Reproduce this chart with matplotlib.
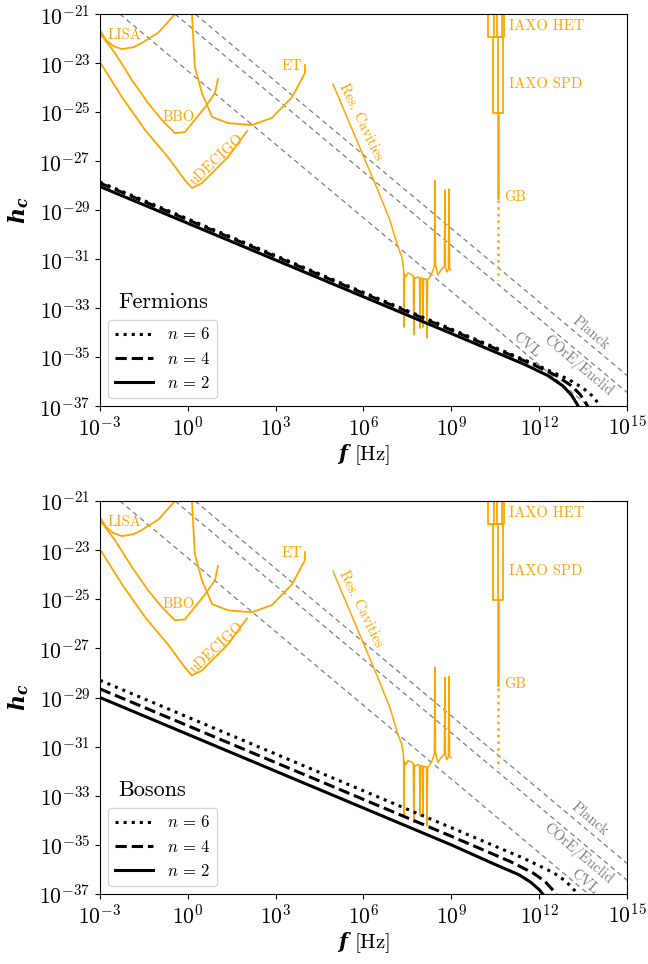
"""Fermion / boson GW strain spectra against detector sensitivities."""
import matplotlib
matplotlib.use("Agg")
import matplotlib.pyplot as plt
import numpy as np

plt.rcParams["font.family"] = "serif"
plt.rcParams["font.serif"] = ["cmr10"]
plt.rcParams["mathtext.fontset"] = "cm"
plt.rcParams["axes.formatter.use_mathtext"] = True
plt.rcParams["axes.unicode_minus"] = False

ORANGE = "#FFA500"
GREY = "grey"

# ---- signal curves, log10 f [Hz] vs log10 h_c ----
FERM = {
    6: ([-3, 9, 12, 13, 13.5, 13.8, 14.0, 14.15],
        [-27.86, -33.86, -35.37, -35.91, -36.27, -36.57, -36.86, -37.13]),
    4: ([-3, 9, 11.8, 12.6, 13.1, 13.4, 13.6, 13.7],
        [-27.9, -33.9, -35.31, -35.77, -36.17, -36.53, -36.89, -37.12]),
    2: ([-3, 9, 11.5, 12.3, 12.8, 13.1, 13.3, 13.4],
        [-28.04, -34.04, -35.30, -35.76, -36.17, -36.55, -36.93, -37.17]),
}
BOS = {
    6: ([-3, 9, 11.5, 12.5, 12.9, 13.2, 13.4],
        [-28.3, -34.3, -35.56, -36.14, -36.47, -36.84, -37.2]),
    4: ([-3, 9, 11, 11.8, 12.2, 12.5, 12.65],
        [-28.65, -34.65, -35.67, -36.15, -36.49, -36.88, -37.15]),
    2: ([-3, 9, 10.5, 11.3, 11.7, 12.0, 12.2],
        [-29.0, -35.0, -35.8, -36.21, -36.51, -36.82, -37.11]),
}
N_STYLES = {6: ":", 4: "--", 2: "-"}

# ---- detector sensitivity curves ----
LISA_F = [-3, -2.8, -2.55, -2.25, -1.85, -1.6, -1.0, -0.44]
LISA_H = [-21.65, -22.05, -22.3, -22.43, -22.35, -22.2, -21.75, -21.0]
BBO_F = [-3, -2.49, -1.91, -1.36, -0.88, -0.44, -0.10, 0.59, 0.93, 1.03]
BBO_H = [-21.78, -22.59, -23.69, -24.63, -25.33, -25.86, -25.82, -24.80, -24.22, -23.65]
DECIGO_F = [-3, -2.25, -1.46, -0.68, -0.10, 0.14, 0.48, 1.37, 2.02]
DECIGO_H = [-22.96, -24.39, -25.73, -26.84, -27.78, -28.10, -27.9, -26.84, -25.78]
ET_F = [0.14, 0.24, 0.48, 0.83, 1.37, 2.19, 2.87, 3.56, 4.0, 4.0]
ET_H = [-21.0, -23.16, -24.22, -25.2, -25.45, -25.53, -25.24, -24.39, -23.41, -23.08]
RC_F = [4.96, 6.56, 6.90, 7.18, 7.31, 7.37, 7.38, 7.40, 7.45, 7.52, 7.62, 7.70,
        7.72, 7.74, 7.79, 7.86, 7.91, 7.93, 7.95, 8.01, 8.03, 8.05, 8.10, 8.15,
        8.17, 8.19, 8.24, 8.34, 8.42, 8.44, 8.46, 8.54, 8.62, 8.68, 8.76, 8.78,
        8.80, 8.85, 8.90, 8.92, 8.94, 8.99]
RC_H = [-23.86, -28.39, -29.41, -30.51, -30.92, -31.40, -33.78, -31.60, -31.73,
        -31.57, -31.61, -31.69, -34.10, -31.75, -31.78, -31.73, -31.76, -33.82,
        -31.78, -31.78, -33.78, -31.80, -31.82, -31.82, -34.22, -31.86, -31.78,
        -31.57, -31.30, -27.78, -31.24, -31.65, -31.50, -31.40, -31.30, -28.18,
        -31.37, -31.53, -31.40, -28.14, -31.40, -31.45]
HET_F = [10.26, 10.80]
HET_LINES_F = [10.46, 10.56, 10.73]
HET_H = [-21.0, -21.95]
SPD_F = [10.43, 10.75]
SPD_H = [-21.95, -25.05]
GB_F = 10.59
GB_SOLID_H = [-25.05, -28.5]
GB_DOT_H = [-28.6, -31.86]

# ---- CMB-bound lines (endpoints) ----
BOUNDS = {
    "Planck": ([0.25, 15.0], [-21.0, -35.75]),
    "COrE/Euclid": ([-0.44, 15.0], [-21.0, -36.44]),
    "CVL": ([-2.32, 13.68], [-21.0, -37.0]),
}
BOUND_LABELS_TOP = {"Planck": (13.77, -34.02), "COrE/Euclid": (13.33, -35.37),
                    "CVL": (11.55, -34.51)}
BOUND_LABELS_BOT = {"Planck": (13.73, -33.94), "COrE/Euclid": (13.33, -35.37),
                    "CVL": (13.53, -36.51)}

DET_LABELS = [
    ("LISA", -2.15, -21.86, 0),
    ("BBO", -0.30, -25.20, 0),
    ("uDECIGO", 1.0, -26.96, 43),
    ("ET", 3.56, -23.12, 0),
    ("Res. Cavities", 5.91, -25.41, -64),
]

XTICKS = [-3, 0, 3, 6, 9, 12, 15]
YTICKS = [-37, -35, -33, -31, -29, -27, -25, -23, -21]


def p(v):
    return 10.0 ** np.asarray(v, dtype=float)


def draw_panel(ax, curves, title, bound_labels):
    for name, (lf, lh) in BOUNDS.items():
        ax.plot(p(lf), p(lh), color=GREY, lw=0.9, ls=(0, (4, 3)))
        tx, ty = bound_labels[name]
        ax.text(p(tx), p(ty), name, color=GREY, fontsize=10.5, rotation=-40,
                ha="center", va="center", rotation_mode="anchor")

    kw = dict(color=ORANGE, lw=1.3)
    ax.plot(p(LISA_F), p(LISA_H), **kw)
    ax.plot(p(BBO_F), p(BBO_H), **kw)
    ax.plot(p(DECIGO_F), p(DECIGO_H), **kw)
    ax.plot(p(ET_F), p(ET_H), **kw)
    ax.plot(p(RC_F), p(RC_H), color=ORANGE, lw=1.1)
    # IAXO HET box + inner lines
    x0, x1 = HET_F
    y0, y1 = HET_H
    ax.plot(p([x0, x0, x1, x1]), p([y0, y1, y1, y0]), **kw)
    for xf in HET_LINES_F:
        ax.plot(p([xf, xf]), p(HET_H), **kw)
    # IAXO SPD box
    x0, x1 = SPD_F
    y0, y1 = SPD_H
    ax.plot(p([x0, x0, x1, x1, x0]), p([y0, y1, y1, y0, y0]), **kw)
    ax.plot(p([GB_F, GB_F]), p(SPD_H), **kw)
    ax.plot(p([GB_F, GB_F]), p(GB_SOLID_H), color=ORANGE, lw=1.8)
    ax.plot(p([GB_F, GB_F]), p(GB_DOT_H), color=ORANGE, lw=1.8, ls=":")

    for txt, lf, lh, rot in DET_LABELS:
        ax.text(p(lf), p(lh), txt, color=ORANGE, fontsize=10.5, rotation=rot,
                ha="center", va="center", rotation_mode="anchor")
    ax.text(p(10.97), p(-21.49), "IAXO HET", color=ORANGE, fontsize=10.5,
            ha="left", va="center")
    ax.text(p(10.97), p(-23.86), "IAXO SPD", color=ORANGE, fontsize=10.5,
            ha="left", va="center")
    ax.text(p(10.80), p(-28.47), "GB", color=ORANGE, fontsize=10.5,
            ha="left", va="center")

    for n, (lf, lh) in curves.items():
        ax.plot(p(lf), p(lh), color="black", lw=2.2, ls=N_STYLES[n],
                label=rf"$n\,=\,{n}$")

    ax.set_xscale("log")
    ax.set_yscale("log")
    ax.set_xlim(1e-3, 1e15)
    ax.set_ylim(1e-37, 1e-21)
    ax.set_xticks(p(XTICKS))
    ax.set_yticks(p(YTICKS))
    ax.xaxis.set_minor_locator(matplotlib.ticker.NullLocator())
    ax.yaxis.set_minor_locator(matplotlib.ticker.NullLocator())
    ax.tick_params(labelsize=15.5)
    ax.set_xlabel(r"$\mathbfit{f}$ [Hz]", fontsize=15,
                  math_fontfamily="dejavuserif", labelpad=2)
    ax.set_ylabel(r"$\mathbfit{h_c}$", fontsize=16,
                  math_fontfamily="dejavuserif", labelpad=6)
    ax.legend(loc="lower left", fontsize=12, handlelength=2.3,
              borderaxespad=0.5)
    ax.text(0.034, 0.265, title, transform=ax.transAxes, fontsize=16,
            ha="left", va="center")


fig = plt.figure(figsize=(6.48, 9.64), dpi=100)
ax_top = fig.add_axes([0.1543, 0.5788, 0.8133, 0.4066])
ax_bot = fig.add_axes([0.1543, 0.0726, 0.8133, 0.4077])
draw_panel(ax_top, FERM, "Fermions", BOUND_LABELS_TOP)
draw_panel(ax_bot, BOS, "Bosons", BOUND_LABELS_BOT)
fig.savefig("out.png", dpi=100)
